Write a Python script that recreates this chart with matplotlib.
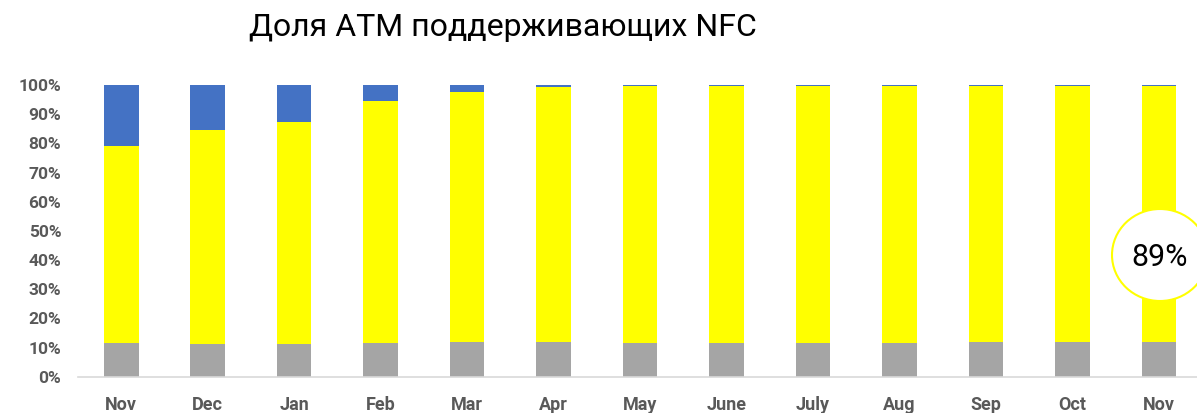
import numpy as np
import matplotlib.pyplot as plt
from matplotlib.patches import Ellipse

months = ['Nov', 'Dec', 'Jan', 'Feb', 'Mar', 'Apr', 'May', 'June', 'July', 'Aug', 'Sep', 'Oct', 'Nov']
gray_part = [11.5, 11.1, 11.3, 11.7, 11.9, 11.9, 11.7, 11.5, 11.5, 11.5, 12.0, 12.0, 12.0]
yellow_top = [79.1, 84.6, 87.3, 94.5, 97.6, 99.3, 99.5, 99.5, 99.5, 99.5, 99.5, 99.5, 99.5]
yellow_part = [t - g for t, g in zip(yellow_top, gray_part)]
blue_part = [100 - t for t in yellow_top]
highlight = '89%'

plt.rcParams['font.family'] = ['Roboto', 'DejaVu Sans']

fig = plt.figure(figsize=(11.97, 4.13), dpi=100)
ax = fig.add_axes([78 / 1197, 36.3 / 413, 1 - 78 / 1197, (376.7 - 85) / 413])

x = np.arange(len(months))
w = 0.4
ax.bar(x, gray_part, w, color='#A5A5A5', zorder=2)
ax.bar(x, yellow_part, w, bottom=gray_part, color='#FFFF00', zorder=2)
ax.bar(x, blue_part, w, bottom=yellow_top, color='#4472C4', zorder=2)

ax.set_xlim(-0.5, 12.44)
ax.set_ylim(0, 100)
ax.set_yticks(np.arange(0, 101, 10))
ax.set_yticklabels([f'{v}%' for v in range(0, 101, 10)])
ax.set_xticks(x)
ax.set_xticklabels(months)
ax.tick_params(axis='y', length=0, pad=12, labelsize=12.5, labelcolor='#595959')
ax.tick_params(axis='x', length=0, pad=14, labelsize=13, labelcolor='#595959')
for lbl in ax.get_xticklabels() + ax.get_yticklabels():
    lbl.set_fontweight('bold')

for s in ['top', 'right', 'left']:
    ax.spines[s].set_visible(False)
ax.spines['bottom'].set_color('#D9D9D9')
ax.spines['bottom'].set_linewidth(1.2)

fig.text(503 / 1197, 1 - 28 / 413, 'Доля ATM поддерживающих NFC', ha='center', va='center',
         fontsize=23, color='black')

circ = Ellipse((1160 / 1197, 1 - 255 / 413), 96 / 1197, 92 / 413, transform=fig.transFigure,
               facecolor='white', edgecolor='#FFFF00', linewidth=1.5, zorder=5)
fig.patches.append(circ)
fig.text(1160 / 1197, 1 - 257 / 413, highlight, ha='center', va='center', fontsize=22,
         color='black', zorder=6)

fig.savefig('out.png', dpi=100)
